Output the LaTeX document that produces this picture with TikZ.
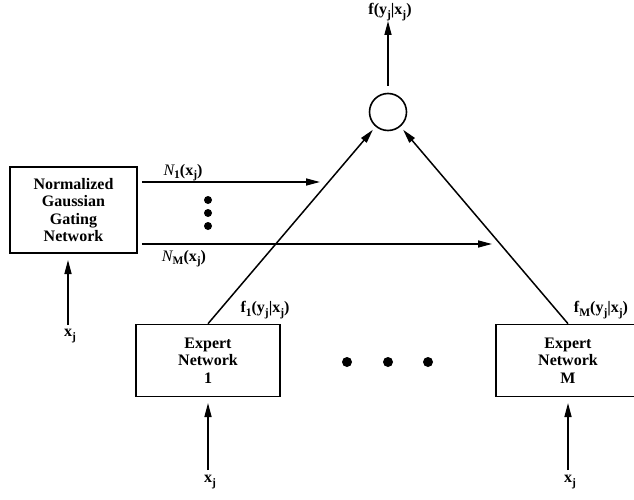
\documentclass[tikz,border=0pt]{standalone}
\usepackage{fontspec}
\setmainfont{Liberation Serif}
\usetikzlibrary{arrows.meta}
\newcommand\lsub[1]{\raisebox{-0.45ex}{\fontsize{11.5}{11.5}\selectfont #1}}
\begin{document}
\begin{tikzpicture}[x=1pt,y=-1pt,
  box/.style={draw, line width=1.6pt, align=center, font=\fontsize{16}{17.6}\selectfont\bfseries, inner sep=0pt},
  lbl/.style={font=\fontsize{16}{17.6}\selectfont\bfseries, inner sep=0pt},
  arr/.style={line width=1.5pt, -{Triangle[length=14pt,width=7pt]}},
  dot/.style={circle, fill, inner sep=0pt}]
\clip (0,0) rectangle (634,500);
\fill[white] (0,0) rectangle (634,500);
% boxes
\node[box, minimum width=127pt, minimum height=86pt] (gate) at (73.5,210) {Normalized\\Gaussian\\Gating\\Network};
\node[box, minimum width=144pt, minimum height=72pt] (e1) at (208,360.5) {Expert\\Network\\1};
\node[box, minimum width=144pt, minimum height=72pt] (eM) at (568,360.5) {Expert\\Network\\M};
\node[draw, circle, line width=1.6pt, minimum size=37pt, inner sep=0pt] (sum) at (388,112) {};
% labels
\node[lbl] (fout) at (390,12) {f(y\lsub{j}|x\lsub{j})};
\node[lbl] (n1) at (183,173) {{\mdseries\itshape N}\lsub{1}(x\lsub{j})};
\node[lbl] (nM) at (184,259) {{\mdseries\itshape N}\lsub{M}(x\lsub{j})};
\node[lbl] (f1) at (265,310) {f\lsub{1}(y\lsub{j}|x\lsub{j})};
\node[lbl] (fM) at (601,310) {f\lsub{M}(y\lsub{j}|x\lsub{j})};
\node[lbl] (xg) at (70,336) {x\lsub{j}};
\node[lbl] (x1) at (210,482) {x\lsub{j}};
\node[lbl] (xM) at (570,482) {x\lsub{j}};
% coordinates
\coordinate (n1end) at (320,182);
\coordinate (nMend) at (492,244);
\coordinate (outtip) at (388,21);
\coordinate (xgtop) at (68,325);
\coordinate (xgtip) at (68,260);
\coordinate (x1top) at (208,470);
\coordinate (x1tip) at (208,403);
\coordinate (xMtop) at (568,470);
\coordinate (xMtip) at (568,403);
% connectors
\draw[arr] ([yshift=7pt]sum.north) -- (outtip);
\draw[arr, shorten >=4pt] (e1.north) -- (sum);
\draw[arr, shorten >=4pt] (eM.north) -- (sum);
\draw[arr] ([xshift=4pt]gate.east |- n1end) -- (n1end);
\draw[arr] ([xshift=4pt]gate.east |- nMend) -- (nMend);
\draw[arr] (xgtop) -- (xgtip);
\draw[arr] (x1top) -- (x1tip);
\draw[arr] (xMtop) -- (xMtip);
% dots
\foreach \y [count=\i] in {200,213,226} \node[dot, minimum size=8pt] (vd\i) at (208,\y) {};
\foreach \x [count=\i] in {347,388,428} \node[dot, minimum size=10pt] (hd\i) at (\x,362) {};
\end{tikzpicture}
\end{document}
